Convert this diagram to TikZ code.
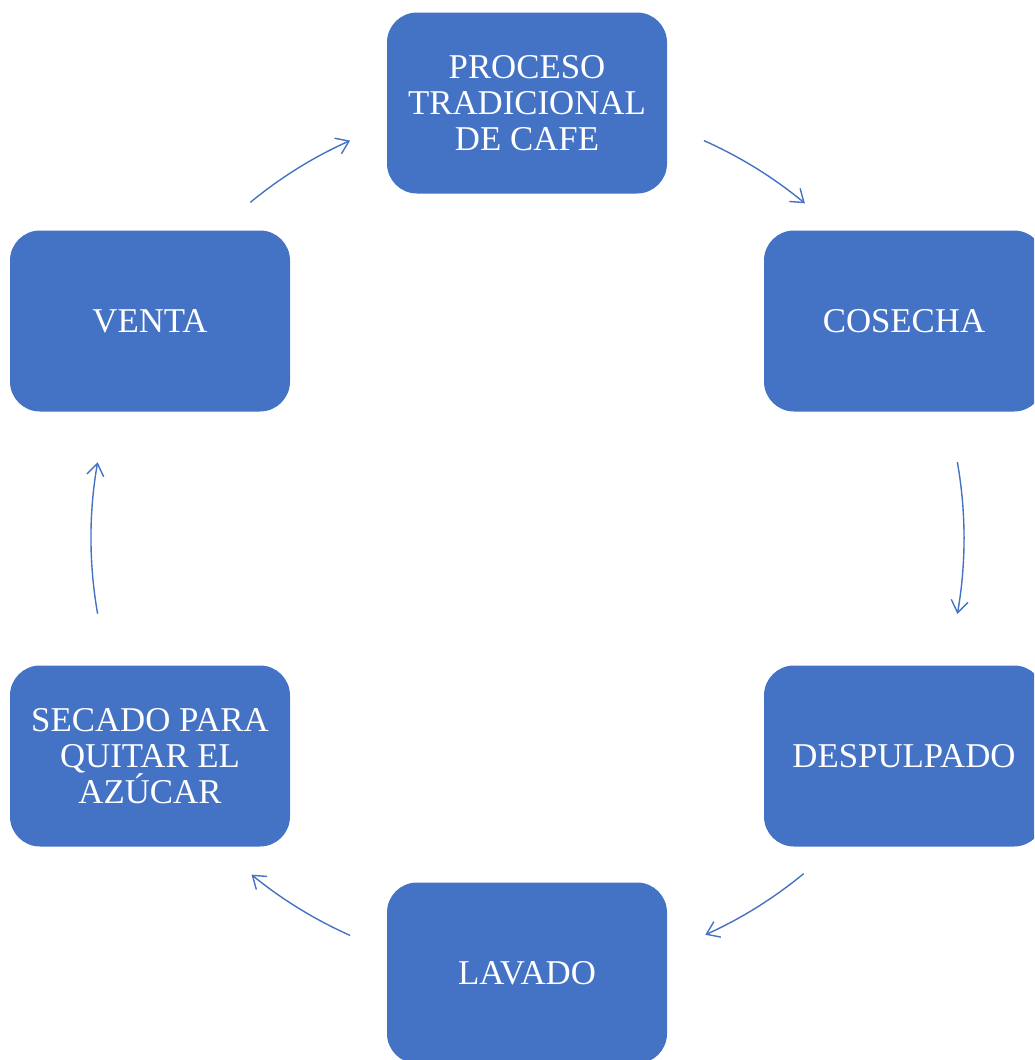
\documentclass[tikz,border=0pt]{standalone}
\usepackage{fontspec}
\setmainfont{Liberation Serif}
\usetikzlibrary{arrows.meta,calc}
\definecolor{boxblue}{HTML}{4472C4}
\begin{document}
\begin{tikzpicture}[x=1pt,y=1pt,
  stepbox/.style={rectangle, rounded corners=30pt, fill=boxblue, draw=none,
    minimum width=280pt, minimum height=181pt, inner sep=0pt, text=white,
    align=center, font=\fontsize{34.8}{36}\selectfont},
  arr/.style={draw=boxblue, line width=1.4pt, -{Straight Barb[length=12pt,width=17pt,line width=1.4pt]}}]
\useasboundingbox (0,0) rectangle (1034,-1060);
\clip (0,0) rectangle (1034,-1060);
\coordinate (c) at (527,-538);
\node[stepbox] (n1) at (527,-103) {PROCESO\\TRADICIONAL\\DE CAFE};
\node[stepbox] (n2) at (904,-321) {COSECHA};
\node[stepbox] (n3) at (904,-756) {DESPULPADO};
\node[stepbox] (n4) at (527,-973) {LAVADO};
\node[stepbox] (n5) at (150,-756) {SECADO PARA\\QUITAR EL\\AZÚCAR};
\node[stepbox] (n6) at (150,-321) {VENTA};
\coordinate (a1) at ($(c)+(66:435)$);
\coordinate (a2) at ($(c)+(10:437)$);
\coordinate (a3) at ($(c)+(-50.5:435)$);
\coordinate (a4) at ($(c)+(-114:435)$);
\coordinate (a5) at ($(c)+(-170:436)$);
\coordinate (a6) at ($(c)+(129.5:435)$);
\draw[arr] (a1) arc[start angle=66, end angle=50.3, radius=435];
\draw[arr] (a2) arc[start angle=10, end angle=-10, radius=437];
\draw[arr] (a3) arc[start angle=-50.5, end angle=-65.8, radius=435];
\draw[arr] (a4) arc[start angle=-114, end angle=-129.3, radius=435];
\draw[arr] (a5) arc[start angle=-170, end angle=-190, radius=436];
\draw[arr] (a6) arc[start angle=129.5, end angle=114, radius=435];
\end{tikzpicture}
\end{document}
